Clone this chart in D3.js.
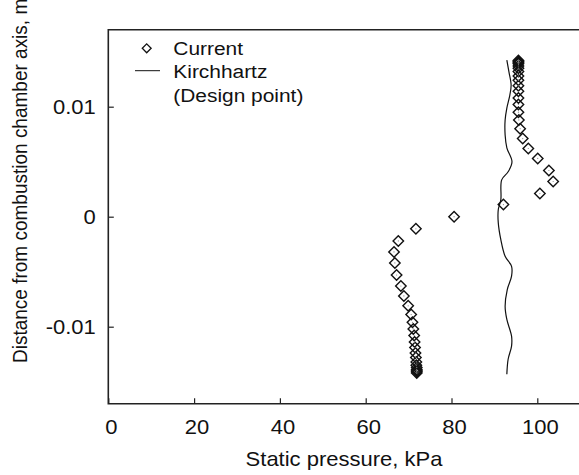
<!DOCTYPE html>
<html>
<head>
<style>
body {margin: 0; background: #fff;}
text {font-family: "Liberation Sans", Arial, sans-serif; fill: #111;}
</style>
<script src="https://d3js.org/d3.v7.min.js"></script>
</head>
<body>
<svg id="vis" width="579" height="475"></svg>
<script>
// Current (diamonds): distance from axis (m) and static pressure (kPa)
var curY = [-0.0142, -0.0141, -0.0140, -0.0139, -0.0137, -0.0135, -0.0132, -0.0128, -0.0124, -0.0119, -0.0114, -0.0108,
            -0.0102, -0.0096, -0.0089, -0.0081, -0.0072, -0.0063, -0.0053, -0.0042, -0.0032, -0.0022, -0.0011,
            0,
            0.0011, 0.0021, 0.0032, 0.0042, 0.0053, 0.0062, 0.0071, 0.0080, 0.0088, 0.0095, 0.0102,
            0.0108, 0.0114, 0.0119, 0.0124, 0.0128, 0.0132, 0.0135, 0.0137, 0.0139, 0.0140, 0.0141, 0.0142];
var curP = [71.9, 71.9, 71.9, 71.9, 71.9, 71.8, 71.8, 71.7, 71.6, 71.5, 71.4, 71.3,
            71.1, 70.9, 70.6, 69.9, 68.9, 68.2, 67.2, 66.8, 66.6, 67.6, 71.7,
            80.6,
            92.1, 100.6, 103.7, 102.7, 100.1, 97.9, 96.6, 96.0, 95.7, 95.6, 95.6,
            95.6, 95.6, 95.6, 95.6, 95.6, 95.6, 95.6, 95.6, 95.6, 95.6, 95.6, 95.6];

// Kirchhartz (design point) line
var kirY = [0.01423, 0.01315, 0.01197, 0.01106, 0.00988, 0.00879, 0.00743, 0.00626, 0.00499, 0.00408, 0.00335,
            0.00154, 0.00063, -0.00054, -0.00209, -0.00360, -0.00451, -0.00541, -0.00662, -0.00813, -0.00934,
            -0.01086, -0.01176, -0.01296, -0.01432];
var kirP = [92.9, 93.4, 93.9, 93.6, 92.9, 92.5, 92.5, 92.9, 94.1, 93.2, 91.7,
            91.5, 90.9, 90.9, 91.5, 92.5, 94.0, 94.0, 93.0, 92.5, 92.9,
            94.0, 94.0, 93.2, 92.9];

var xTicks = [0, 20, 40, 60, 80, 100];
var yTicks = [-0.01, 0, 0.01];
var yTickLabels = ["-0.01", "0", "0.01"];
var legendLabels = ["Current", "Kirchhartz", "(Design point)"];

var svg = d3.select("#vis");
var plotL = 108.3, plotT = 29.7, plotR = 580.2, plotB = 403.7;
var stretch = "scale(1.1,1)";

var x = d3.scaleLinear().domain([0, 110]).range([plotL, plotR]);
var y = d3.scaleLinear().domain([-0.017, 0.017]).range([plotB, plotT]);

// frame (right edge falls outside the picture)
svg.append("path")
  .attr("d", "M" + plotR + "," + plotT + "H" + plotL + "V" + plotB + "H" + plotR)
  .attr("fill", "none").attr("stroke", "#222").attr("stroke-width", 1.6);

var xAxis = svg.append("g").attr("transform", "translate(0," + plotB + ")")
  .call(d3.axisBottom(x).tickValues(xTicks).tickSizeInner(-5.5).tickSizeOuter(0).tickPadding(16));
xAxis.select(".domain").remove();
xAxis.selectAll("line").attr("stroke", "#222").attr("stroke-width", 1.2);
xAxis.selectAll("text").attr("font-size", 20).attr("fill", "#111")
  .attr("transform", "translate(2.5,0) " + stretch)
  .style("font-family", "Liberation Sans, Arial, sans-serif");

var yAxis = svg.append("g").attr("transform", "translate(" + plotL + ",0)")
  .call(d3.axisLeft(y).tickValues(yTicks).tickFormat(function (d, i) { return yTickLabels[i]; })
    .tickSizeInner(-5.5).tickSizeOuter(0));
yAxis.select(".domain").remove();
yAxis.selectAll("line").attr("stroke", "#222").attr("stroke-width", 1.2);
yAxis.selectAll("text").attr("font-size", 20).attr("fill", "#111")
  .attr("x", null)
  .attr("transform", "translate(-12.5,0) " + stretch)
  .style("font-family", "Liberation Sans, Arial, sans-serif");

// axis titles
svg.append("text").attr("transform", "translate(344,466) " + stretch).attr("text-anchor", "middle")
  .attr("font-size", 20).text("Static pressure, kPa");
svg.append("text").attr("transform", "translate(27,363) " + stretch + " rotate(-90)")
  .attr("font-size", 19).text("Distance from combustion chamber axis, m");

// Kirchhartz line
var line = d3.line().curve(d3.curveCatmullRom)
  .x(function (d, i) { return x(kirP[i]); })
  .y(function (d) { return y(d); });
svg.append("path").datum(kirY).attr("d", line)
  .attr("fill", "none").attr("stroke", "#111").attr("stroke-width", 1.2);

// Current diamonds
var diamond = d3.symbol().type(d3.symbolDiamond2).size(70);
svg.selectAll(".cur").data(curY).enter().append("path")
  .attr("class", "cur")
  .attr("transform", function (d, i) { return "translate(" + x(curP[i]) + "," + y(d) + ")"; })
  .attr("d", diamond)
  .attr("fill", "none").attr("stroke", "#111").attr("stroke-width", 1.4);
svg.selectAll(".dot").data(curY).enter().append("circle")
  .attr("cx", function (d, i) { return x(curP[i]); })
  .attr("cy", function (d) { return y(d); })
  .attr("r", 0.6).attr("fill", "#888");

// legend
svg.append("path").attr("transform", "translate(146.7,48.3)")
  .attr("d", d3.symbol().type(d3.symbolDiamond2).size(50))
  .attr("fill", "none").attr("stroke", "#111").attr("stroke-width", 1.3);
svg.append("line").attr("x1", 135).attr("x2", 160).attr("y1", 70.7).attr("y2", 70.7)
  .attr("stroke", "#111").attr("stroke-width", 1);
svg.selectAll(".leg").data(legendLabels).enter().append("text")
  .attr("class", "leg")
  .attr("transform", function (d, i) { return "translate(173.3," + (55 + i * 23.3) + ") " + stretch; })
  .attr("font-size", 19)
  .text(function (d) { return d; });
</script>
</body>
</html>
